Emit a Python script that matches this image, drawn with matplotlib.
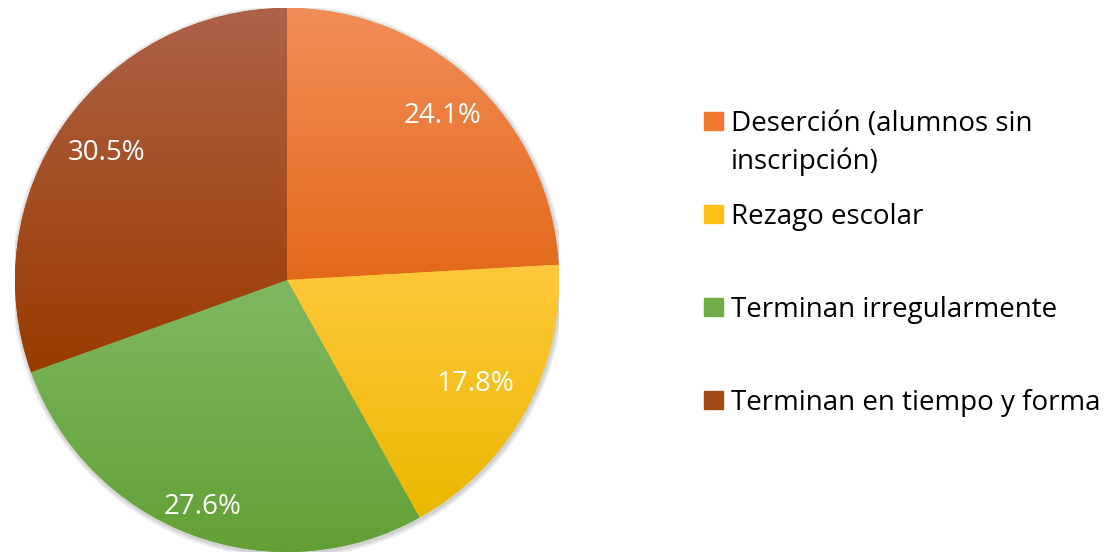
import matplotlib.pyplot as plt
import numpy as np
from matplotlib.colors import LinearSegmentedColormap
from matplotlib.patches import Rectangle, Circle

labels = ['Deserción (alumnos sin\ninscripción)', 'Rezago escolar',
          'Terminan irregularmente', 'Terminan en tiempo y forma']
values = [24.1, 17.8, 27.6, 30.5]
# top / bottom colours of the gradient fill
tops = ['#F28D58', '#FFC83C', '#80B862', '#AE6248']
bottoms = ['#E3691A', '#EBB800', '#62A035', '#9A3B00']
mids = ['#EF7A30', '#FBC11A', '#70AD47', '#A34A14']
# label distance from centre (fraction of radius), as placed in the original
label_dist = [0.83, 0.79, 0.89, 0.81]

plt.rcParams['font.family'] = ['Open Sans', 'DejaVu Sans']

fig = plt.figure(figsize=(11.15, 5.56), dpi=100)
ax = fig.add_axes([15 / 1115, 4 / 556, 544 / 1115, 544 / 556])

# soft shadow behind the pie
for k in range(1, 6):
    ax.add_patch(Circle((0.003, -0.006), 1 + 0.0035 * k, color='#555555',
                        alpha=0.06, lw=0, zorder=0))

wedges, texts, autotexts = ax.pie(values, startangle=90, counterclock=False,
                                  colors=mids, autopct='%.1f%%',
                                  wedgeprops=dict(linewidth=0),
                                  textprops=dict(color='white', fontsize=20))
ax.set_xlim(-1, 1)
ax.set_ylim(-1, 1)
ax.set_aspect('equal')
ax.axis('off')

# vertical gradient in each wedge, clipped to the wedge shape
for w, c1, c2 in zip(wedges, tops, bottoms):
    bb = w.get_path().get_extents(w.get_patch_transform())
    cmap = LinearSegmentedColormap.from_list('g', [c2, c1])
    grad = np.linspace(0, 1, 256).reshape(-1, 1)
    im = ax.imshow(grad, cmap=cmap, origin='lower', aspect='auto',
                   extent=[bb.x0, bb.x1, bb.y0, bb.y1], zorder=w.get_zorder())
    im.set_clip_path(w)

for w, t, d in zip(wedges, autotexts, label_dist):
    ang = np.deg2rad((w.theta1 + w.theta2) / 2)
    t.set_position((d * np.cos(ang), d * np.sin(ang)))
    t.set_zorder(5)

# legend, drawn by hand to get Excel-like spacing
ys = [131, 224, 317, 410]  # baselines of first lines
for lab, col, y in zip(labels, mids, ys):
    fig.patches.append(Rectangle((704 / 1115, 1 - (y - 1) / 556), 19 / 1115, 18 / 556,
                                 transform=fig.transFigure, color=col))
    for i, line in enumerate(lab.split('\n')):
        fig.text(731 / 1115, 1 - (y + 38 * i) / 556, line, fontsize=20,
                 va='baseline', ha='left', color='black')

fig.savefig('out.png', dpi=100)
